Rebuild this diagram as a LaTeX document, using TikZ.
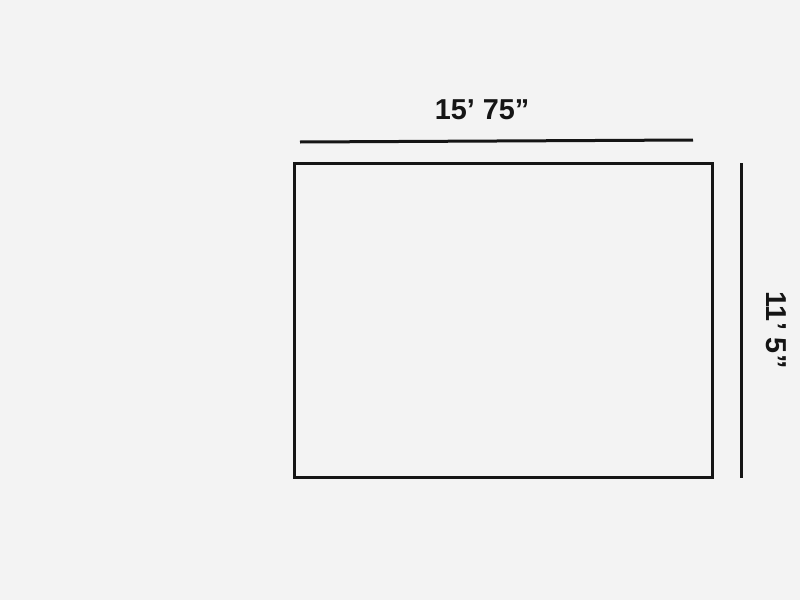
\documentclass[tikz,border=0pt]{standalone}
\usepackage{fontspec}
\setmainfont{Liberation Sans}
\definecolor{paper}{HTML}{F3F3F3}
\definecolor{ink}{HTML}{151515}
\begin{document}
\begin{tikzpicture}[%
            x=0.5pt, y=-0.5pt,
            myline/.style={draw=ink, line width=1.5pt},
            mylabel/.style={text=ink, font=\Large\bfseries, inner sep=0pt}
    ]
        \fill [paper] (0,0) rectangle (800,600);
        \useasboundingbox (0,0) rectangle (800,600);

        % the sheet
        \draw [myline] (294,163) rectangle (712,477);

        % width
        \coordinate (w1) at (300,142);
        \coordinate (w2) at (693,140);
        \draw [myline] (w1) -- (w2);
        \node [mylabel] (wlabel) at (482,110) {15' 75''};

        % height
        \coordinate (h1) at (741,163);
        \coordinate (h2) at (741,478);
        \draw [myline] (h1) -- (h2);
        \node [mylabel, rotate=-90] (hlabel) at (776,330) {11' 5''};
    \end{tikzpicture}
\end{document}
